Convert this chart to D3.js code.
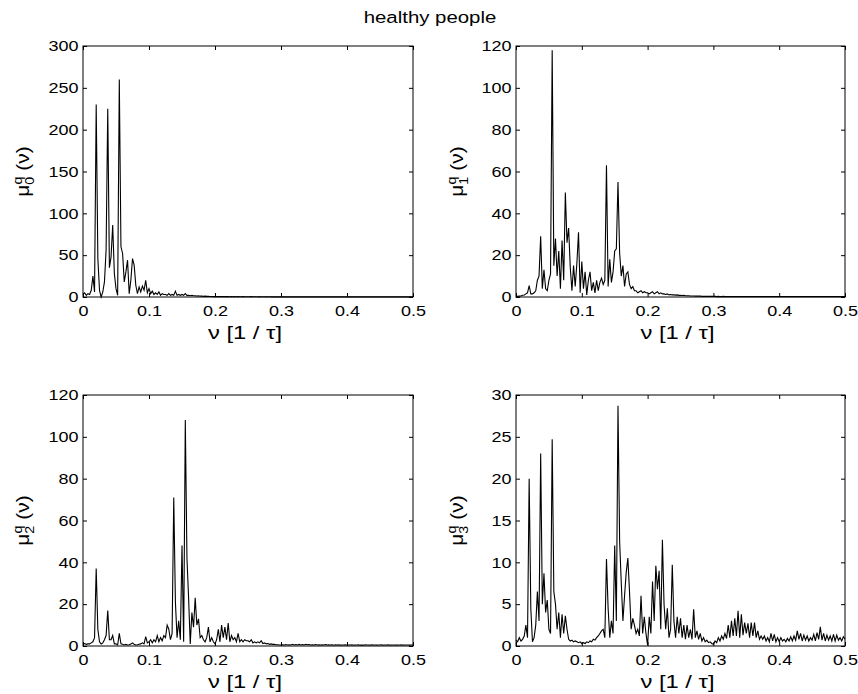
<!DOCTYPE html>
<html>
<head>
<meta charset="utf-8">
<script src="https://cdn.jsdelivr.net/npm/d3@7"></script>
<style>
  body { margin: 0; background: #fff; }
  text { font-family: "Liberation Sans", Arial, Helvetica, sans-serif; fill: #000; }
</style>
</head>
<body>
<script>
// frequency grid: nu = i * nuStep, i = 0..200  (0 .. 0.5)
const nuStep = 0.0025;

// mu_0^q(nu)
const mu0 = [
  3, 5, 2, 4, 3, 8, 25, 6, 230, 46,
  8, 0, 6, 18, 56, 225, 35, 48, 86, 28,
  10, 2, 260, 60, 52, 18, 30, 44, 4, 20,
  46, 38, 14, 4, 12, 6, 13, 8, 20, 5,
  10, 4, 7, 3, 5, 3, 6, 2, 4, 3,
  3, 2, 4, 2, 3, 2, 7, 2, 3, 2,
  3, 2, 4, 2, 2, 1.5, 2, 1.5, 1.5, 1.2,
  1.5, 1, 1.2, 0.8, 1, 0.7, 0.8, 0.6, 0.6, 0.5,
  0.5, 0.6, 0.4, 0.5, 0.4, 0.5, 0.4, 0.4, 0.5, 0.3,
  0.4, 0.3, 0.4, 0.3, 0.4, 0.3, 0.3, 0.4, 0.3, 0.3,
  0.3, 0.3, 0.4, 0.3, 0.3, 0.3, 0.3, 0.2, 0.3, 0.3,
  0.3, 0.2, 0.3, 0.3, 0.2, 0.3, 0.2, 0.2, 0.3, 0.2,
  0.2, 0.3, 0.2, 0.2, 0.3, 0.2, 0.2, 0.2, 0.3, 0.2,
  0.2, 0.2, 0.2, 0.3, 0.2, 0.2, 0.2, 0.2, 0.2, 0.2,
  0.2, 0.2, 0.3, 0.2, 0.2, 0.2, 0.2, 0.2, 0.2, 0.2,
  0.2, 0.2, 0.2, 0.2, 0.2, 0.3, 0.2, 0.2, 0.2, 0.2,
  0.2, 0.2, 0.2, 0.2, 0.2, 0.2, 0.2, 0.2, 0.2, 0.2,
  0.2, 0.2, 0.2, 0.2, 0.2, 0.2, 0.2, 0.2, 0.2, 0.2,
  0.2, 0.2, 0.2, 0.2, 0.2, 0.2, 0.2, 0.2, 0.2, 0.2,
  0.2, 0.2, 0.2, 0.2, 0.2, 0.2, 0.2, 0.2, 0.2, 0.2,
  0.2
];

// mu_1^q(nu)
const mu1 = [
  0.3, 0.3, 0.4, 0.5, 0.8, 1, 1.5, 2, 5.5, 1.5,
  1.5, 2, 3, 8, 10, 29, 4, 13, 4, 3,
  8, 11, 118, 15, 28, 10, 22, 4, 27, 8,
  50, 26, 33, 14, 3, 15, 5, 16, 31, 2,
  17, 4, 12, 1, 8, 12, 3, 7, 2, 8,
  3, 7, 9, 6, 8, 63, 5, 18, 7, 12,
  22, 23, 55, 21, 10, 15, 5, 11, 12, 6,
  4, 5, 3, 3, 2, 2.5, 3, 2, 2.5, 2,
  2, 1.5, 2, 2.5, 1.5, 2, 2.5, 1.5, 2, 1.5,
  1.5, 1.2, 1.5, 1, 1.2, 1, 1, 0.9, 1, 0.8,
  0.8, 0.7, 0.8, 0.6, 0.6, 0.6, 0.5, 0.5, 0.5, 0.4,
  0.4, 0.4, 0.4, 0.3, 0.3, 0.3, 0.3, 0.3, 0.3, 0.3,
  0.3, 0.3, 0.2, 0.3, 0.2, 0.2, 0.3, 0.2, 0.2, 0.2,
  0.2, 0.2, 0.2, 0.2, 0.2, 0.2, 0.2, 0.2, 0.2, 0.2,
  0.2, 0.2, 0.2, 0.2, 0.2, 0.2, 0.2, 0.2, 0.2, 0.2,
  0.2, 0.2, 0.2, 0.2, 0.2, 0.2, 0.2, 0.2, 0.2, 0.2,
  0.2, 0.2, 0.2, 0.2, 0.2, 0.2, 0.2, 0.2, 0.2, 0.2,
  0.2, 0.2, 0.2, 0.2, 0.2, 0.2, 0.2, 0.2, 0.2, 0.2,
  0.2, 0.2, 0.2, 0.2, 0.2, 0.2, 0.2, 0.2, 0.2, 0.2,
  0.2, 0.2, 0.2, 0.2, 0.2, 0.2, 0.2, 0.2, 0.2, 0.2,
  0.2
];

// mu_2^q(nu)
const mu2 = [
  1, 1.2, 0.8, 1, 1, 1.5, 2, 4, 37, 8,
  2, 1, 1.5, 3, 5, 17, 3, 3, 5, 1,
  1, 0.5, 6, 1, 0.8, 0.5, 0.8, 0.5, 0.6, 1,
  1.5, 0.8, 0.5, 0.6, 0.8, 1, 1.5, 1, 4.5, 1.5,
  2, 3, 1.5, 3, 2, 5, 2, 4, 2.5, 5,
  4, 10, 8, 3, 6, 71, 21, 4, 12, 3,
  48, 2, 108, 42, 23, 1, 16, 9, 23, 10,
  13, 4, 5, 3, 2, 4, 9, 2, 4, 2,
  1, 3, 8, 2, 10, 4, 9, 3, 11, 2,
  5, 3, 4, 2, 6, 2, 3, 2, 3, 2.5,
  2.5, 2, 3, 1.5, 2, 1.5, 2, 1.5, 2.5, 1.2,
  1.5, 1, 1.2, 0.8, 1, 0.8, 0.8, 0.6, 0.6, 0.5,
  0.5, 0.6, 0.5, 0.7, 0.5, 0.6, 0.5, 0.8, 0.5, 0.7,
  0.5, 0.8, 0.5, 0.7, 0.5, 0.8, 0.6, 0.7, 0.5, 0.6,
  0.5, 0.7, 0.5, 0.6, 0.5, 0.6, 0.5, 0.7, 0.5, 0.6,
  0.5, 0.6, 0.4, 0.6, 0.5, 0.6, 0.4, 0.5, 0.5, 0.6,
  0.4, 0.5, 0.5, 0.6, 0.4, 0.5, 0.5, 0.6, 0.4, 0.5,
  0.4, 0.6, 0.5, 0.5, 0.4, 0.6, 0.5, 0.5, 0.4, 0.5,
  0.5, 0.6, 0.4, 0.5, 0.5, 0.6, 0.4, 0.5, 0.5, 0.5,
  0.4, 0.5, 0.5, 0.6, 0.4, 0.5, 0.5, 0.5, 0.4, 0.5,
  0.5
];

// mu_3^q(nu)
const mu3 = [
  0.7, 0.5, 1, 0.6, 0.8, 1.2, 2.5, 1, 20, 4.5,
  0.5, 1, 2.5, 6.5, 3, 23, 5, 8.7, 4, 5.5,
  2, 1.5, 24.7, 6.5, 5, 2, 4, 1, 3.8, 1.5,
  3.6, 2, 0.8, 0.6, 0.7, 0.5, 0.6, 0.5, 0.4, 0.5,
  0.3, 0.4, 0.3, 0.5, 0.4, 0.6, 0.5, 0.8, 0.7, 1,
  1.2, 1.5, 1.8, 2, 1, 10.4, 4.5, 1, 3, 1.5,
  12, 3, 28.7, 12.5, 7.5, 3, 6, 8.8, 10.5, 6.5,
  2, 3.3, 2.5, 1.5, 2, 1.2, 6, 1.5, 3.5, 1.5,
  0.1, 3.5, 1.5, 7.7, 3, 9.6, 6.8, 9, 2, 12.7,
  5, 2, 4.5, 1, 2, 9.7, 3, 1, 3.5, 1.5,
  3.3, 1, 2.5, 0.8, 2.5, 1, 2, 0.8, 4.4, 1,
  1.8, 0.8, 1.5, 0.6, 1, 0.5, 0.7, 0.4, 0.5, 0.3,
  0.2, 0.6, 0.4, 1, 0.6, 1.2, 0.8, 1.5, 0.9, 2.5,
  1, 3, 1.2, 3.3, 1.2, 4.2, 1, 3.8, 1.3, 2.8,
  1.5, 2.7, 1, 2.8, 1.2, 2.8, 1, 1.8, 0.8, 1.2,
  0.8, 1.2, 0.6, 1, 0.5, 1.5, 0.6, 1.4, 0.5, 1,
  0.5, 1, 0.6, 0.8, 0.5, 0.9, 0.6, 1.1, 0.6, 1.2,
  0.7, 1.8, 0.8, 1.5, 0.6, 1.3, 0.7, 1.2, 0.6, 1,
  0.7, 1.4, 0.6, 1.6, 0.8, 2.3, 0.7, 1.5, 0.6, 1.3,
  0.7, 1.2, 0.6, 1.4, 0.6, 1.3, 0.7, 1, 0.6, 1.1,
  0.8
];

const xTicks = [0, 0.1, 0.2, 0.3, 0.4, 0.5];
const yTicks0 = [0, 50, 100, 150, 200, 250, 300];
const yTicks1 = [0, 20, 40, 60, 80, 100, 120];
const yTicks2 = [0, 20, 40, 60, 80, 100, 120];
const yTicks3 = [0, 5, 10, 15, 20, 25, 30];

const W = 858, H = 694;
const tickFont = 15, labelFont = 19;
// glyphs in the reference are wider than Liberation Sans, so text is stretched along its baseline
const SX = 1.2;

const svg = d3.select("body").append("svg")
  .attr("width", W).attr("height", H);

function stretchedText(parent, x, y, size, str, sx) {
  return parent.append("g")
    .attr("transform", `translate(${x},${y}) scale(${sx},1)`)
    .append("text")
    .attr("text-anchor", "middle")
    .style("font-size", size + "px")
    .text(str);
}

stretchedText(svg, 430, 23, 17, "healthy people", 1.2);

const panels = [
  { values: mu0, ticks: yTicks0, sub: "0", left: 83, top: 46, w: 330, h: 251, labelX: 29 },
  { values: mu1, ticks: yTicks1, sub: "1", left: 516, top: 46, w: 329, h: 251, labelX: 463 },
  { values: mu2, ticks: yTicks2, sub: "2", left: 83, top: 395, w: 330, h: 251, labelX: 29 },
  { values: mu3, ticks: yTicks3, sub: "3", left: 516, top: 395, w: 329, h: 251, labelX: 463 }
];

panels.forEach((p) => {
  const g = svg.append("g").attr("transform", `translate(${p.left},${p.top})`);

  const x = d3.scaleLinear().domain([0, 0.5]).range([0, p.w]);
  const y = d3.scaleLinear().domain([0, d3.max(p.ticks)]).range([p.h, 0]);

  // the spectrum
  const line = d3.line()
    .x((d, i) => x(i * nuStep))
    .y((d) => y(d));

  g.append("path")
    .datum(p.values)
    .attr("fill", "none")
    .attr("stroke", "#000")
    .attr("stroke-width", 1.1)
    .attr("stroke-linejoin", "miter")
    .attr("d", line);

  // axes, ticks point inward on all four sides
  const bottom = g.append("g")
    .attr("transform", `translate(0,${p.h})`)
    .call(d3.axisBottom(x).tickValues(xTicks).tickFormat(d3.format("")).tickSizeInner(-4).tickSizeOuter(0).tickPadding(8));
  const left = g.append("g")
    .call(d3.axisLeft(y).tickValues(p.ticks).tickSizeInner(-4).tickSizeOuter(0).tickPadding(4.5 / SX));
  g.append("g")
    .call(d3.axisTop(x).tickValues(xTicks).tickFormat("").tickSizeInner(-4).tickSizeOuter(0));
  g.append("g")
    .attr("transform", `translate(${p.w},0)`)
    .call(d3.axisRight(y).tickValues(p.ticks).tickFormat("").tickSizeInner(-4).tickSizeOuter(0));

  g.selectAll(".domain").remove();
  g.selectAll(".tick line").attr("stroke", "#000");
  [bottom, left].forEach((a) =>
    a.selectAll("text")
      .attr("transform", `scale(${SX},1)`)
      .style("font-size", tickFont + "px")
      .attr("fill", "#000")
  );

  g.append("rect")
    .attr("width", p.w).attr("height", p.h)
    .attr("fill", "none")
    .attr("stroke", "#000")
    .attr("stroke-width", 1);

  // x label
  stretchedText(g, p.w / 2 - 3, p.h + 42, labelFont, "\u03bd [1 / \u03c4]", 1.25);

  // y label  mu_k^q (nu)
  const yl = svg.append("g")
    .attr("transform", `translate(${p.labelX},${p.top + p.h / 2}) rotate(-90) scale(1.1,1)`)
    .append("text")
    .attr("text-anchor", "middle")
    .style("font-size", labelFont + "px");
  yl.append("tspan").text("\u03bc");
  yl.append("tspan").attr("dy", 5).style("font-size", "13px").text(p.sub);
  yl.append("tspan").attr("dx", -7).attr("dy", -12).style("font-size", "13px").text("q");
  yl.append("tspan").attr("dy", 7).text(" (\u03bd)");
});
</script>
</body>
</html>
